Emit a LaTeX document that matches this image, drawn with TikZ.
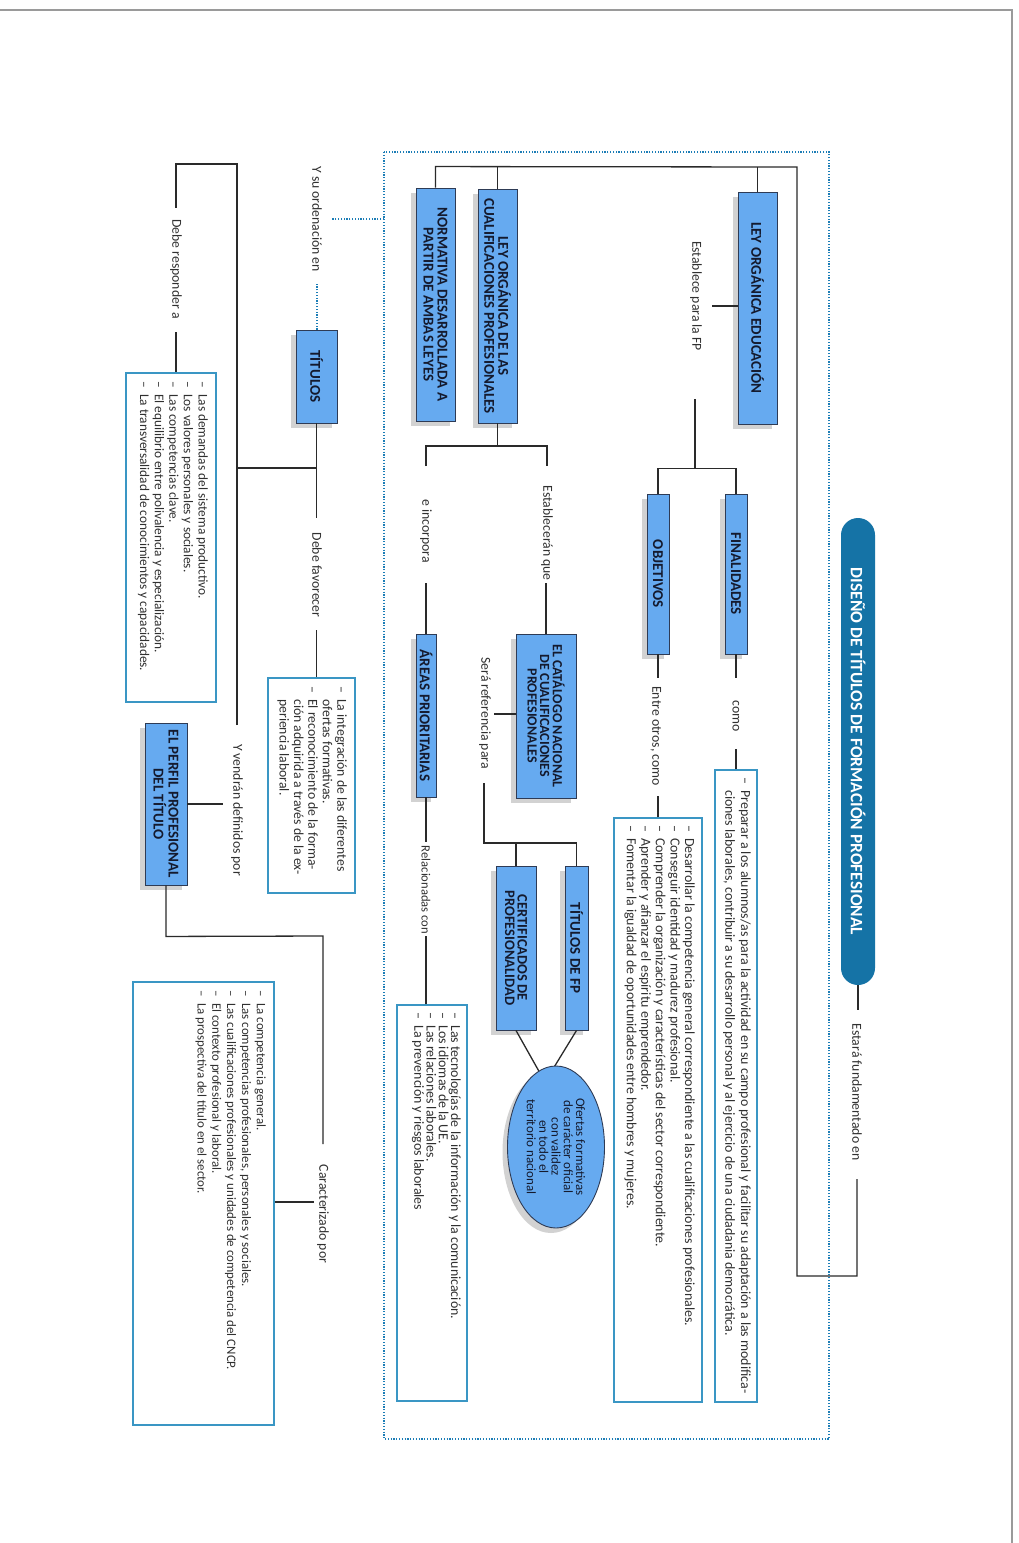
\documentclass[tikz,border=0pt]{standalone}
\usepackage{fontspec}
\setmainfont{Carlito}
\usetikzlibrary{shapes.geometric,shadows}
\definecolor{boxfill}{HTML}{66AAF0}
\definecolor{boxborder}{HTML}{2E3B55}
\definecolor{boxtext}{HTML}{141A2E}
\definecolor{listborder}{HTML}{3A96C4}
\definecolor{dotblue}{HTML}{1C7DB6}
\definecolor{pillblue}{HTML}{1573A6}
\definecolor{linecol}{HTML}{2A2A2A}
\definecolor{txtcol}{HTML}{303030}
\definecolor{pagegray}{HTML}{9A9A9A}
\newcommand\itm[1]{\makebox[13pt][l]{–}#1}
\newcommand\cnt{\hspace*{13pt}}
\begin{document}
\begin{tikzpicture}[x=1pt,y=-1pt,
  conn/.style={draw=linecol, line width=1.3pt},
  dotln/.style={draw=dotblue, line width=2pt, dash pattern=on 1.2pt off 1.6pt},
  hbox/.style={draw=boxborder, fill=boxfill, line width=0.9pt, rotate=-90, inner sep=0pt, align=center, text=boxtext,
     font=\fontsize{15}{15}\selectfont\bfseries,
     drop shadow={shadow xshift=-5pt, shadow yshift=-5pt, opacity=0.35}},
  lbox/.style={draw=listborder, line width=1.4pt, rotate=-90, inner sep=0pt},
  ltext/.style={rotate=-90, anchor=north west, inner sep=0pt, align=left, text=txtcol, font=\fontsize{13.9}{14.6}\selectfont},
  lab/.style={rotate=-90, inner sep=0pt, text=txtcol, font=\fontsize{13.7}{14}\selectfont},
]
\useasboundingbox (0,0) rectangle (1019,1543);
\fill[white] (0,0) rectangle (1019,1543);
\draw[pagegray, line width=1.5pt] (0,10) -- (1012,10) -- (1012,1543);
\draw[dotln] (384,152) rectangle (829,1439);

% title
\node[rotate=-90, fill=pillblue, rounded corners=17pt, minimum width=467pt, minimum height=34pt, inner sep=0pt,
      text=white, font=\fontsize{17.4}{17}\selectfont\bfseries] (pill) at (858,751.5) {DISEÑO DE TÍTULOS DE FORMACIÓN PROFESIONAL};

% heading boxes
\node[hbox, minimum width=232pt, minimum height=39pt] (leyedu) at (757.5,308) {LEY ORGÁNICA EDUCACIÓN};
\node[hbox, minimum width=234pt, minimum height=39pt, font=\fontsize{15}{14}\selectfont\bfseries] (cualif) at (497.5,306) {LEY ORGÁNICA DE LAS\\CUALIFICACIONES PROFESIONALES};
\node[hbox, minimum width=233pt, minimum height=39pt, font=\fontsize{15}{14}\selectfont\bfseries] (norm) at (435.5,304.5) {NORMATIVA DESARROLLADA A\\PARTIR DE AMBAS LEYES};
\node[hbox, minimum width=160pt, minimum height=22pt] (fin) at (736,574) {FINALIDADES};
\node[hbox, minimum width=160pt, minimum height=22pt] (obj) at (658,574) {OBJETIVOS};
\node[hbox, minimum width=164pt, minimum height=60pt, font=\fontsize{14}{12.6}\selectfont\bfseries] (cat) at (546,716) {EL CATÁLOGO NACIONAL\\DE CUALIFICACIONES\\PROFESIONALES};
\node[hbox, minimum width=163pt, minimum height=20pt] (areas) at (426,715.5) {ÁREAS PRIORITARIAS};
\node[hbox, minimum width=164pt, minimum height=23pt] (tfp) at (576.5,948) {TÍTULOS DE FP};
\node[hbox, minimum width=164pt, minimum height=40pt, font=\fontsize{14.5}{12.6}\selectfont\bfseries] (cert) at (516,948) {CERTIFICADOS DE\\PROFESIONALIDAD};
\node[hbox, minimum width=93pt, minimum height=41pt] (tit) at (316.5,376.5) {TÍTULOS};
\node[hbox, minimum width=162pt, minimum height=42pt, font=\fontsize{15}{15}\selectfont\bfseries] (perf) at (166,804) {EL PERFIL PROFESIONAL\\DEL TÍTULO};

% list boxes
\node[lbox, minimum width=632pt, minimum height=42pt] (prep) at (736,1086) {};
\node[lbox, minimum width=584pt, minimum height=88pt] (des) at (658,1110) {};
\node[lbox, minimum width=396pt, minimum height=70pt] (tec) at (432,1203) {};
\node[lbox, minimum width=329pt, minimum height=90pt] (dem) at (171,537.5) {};
\node[lbox, minimum width=215pt, minimum height=87pt] (integ) at (311.5,785.5) {};
\node[lbox, minimum width=443pt, minimum height=141pt] (comp) at (203.5,1203.5) {};

\node[ltext, font=\fontsize{13.9}{15.7}\selectfont] (prept) at (751,777) {\itm{Preparar a los alumnos/as para la actividad en su campo profesional y facilitar su adaptación a las modifica-}\\\cnt ciones laborales, contribuir a su desarrollo personal y al ejercicio de una ciudadania democrática.};
\node[ltext] (dest) at (695,825) {\itm{Desarrollar la competencia general correspondiente a las cualificaciones profesionales.}\\\itm{Conseguir identidad y madurez profesional.}\\\itm{Comprender la organización y características del sector correspondiente.}\\\itm{Aprender y afianzar el espíritu emprendedor.}\\\itm{Fomentar la igualdad de oportunidades entre hombres y mujeres.}};
\node[ltext, font=\fontsize{13.9}{12.3}\selectfont] (tect) at (461,1012) {\itm{Las tecnologías de la información y la comunicación.}\\\itm{Los idiomas de la UE.}\\\itm{Las relaciones laborales.}\\\itm{La prevención y riesgos laborales}};
\node[ltext, font=\fontsize{13.3}{14.6}\selectfont] (demt) at (208,381) {\itm{Las demandas del sistema productivo.}\\\itm{Los valores personales y sociales.}\\\itm{Las competencias clave.}\\\itm{El equilibrio entre polivalencia y especialización.}\\\itm{La transversalidad de conocimientos y capacidades.}};
\node[ltext, font=\fontsize{13.7}{14.4}\selectfont] (integt) at (347,686) {\itm{La integración de las diferentes}\\\cnt ofertas formativas.\\\itm{El reconocimiento de la forma-}\\\cnt ción adquirida a través de la ex-\\\cnt periencia laboral.};
\node[ltext, font=\fontsize{12.9}{14.8}\selectfont] (compt) at (266,990) {\itm{La competencia general.}\\\itm{Las competencias profesionales, personales y sociales.}\\\itm{Las cualificaciones profesionales y unidades de competencia del CNCP.}\\\itm{El contexto profesional y laboral.}\\\itm{La prospectiva del título en el sector.}};

% labels
\node[lab] (l1) at (696,296) {Establece para la FP};
\node[lab] (l2) at (736,716) {como};
\node[lab] (l3) at (656,736) {Entre otros, como};
\node[lab] (l4) at (547,533) {Establecerán que};
\node[lab] (l5) at (426,531) {e incorpora};
\node[lab] (l6) at (485,713) {Será referencia para};
\node[lab, font=\fontsize{12.6}{13}\selectfont] (l7) at (426,890) {Relacionadas con};
\node[lab] (l8) at (317,219) {Y su ordenación en};
\node[lab] (l9) at (317,575) {Debe favorecer};
\node[lab] (l10) at (176,269) {Debe responder a};
\node[lab] (l11) at (237,810) {Y vendrán definidos por};
\node[lab] (l12) at (323,1214) {Caracterizado por};
\node[lab] (l13) at (857,1092) {Estará fundamentado en};

% connectors
\draw[conn] (norm.west) -- ++(0,-21) -- (797,167) -- (797,1276) -- (857,1276) -- (857,1179);
\draw[conn] (cualif.west) -- ++(0,-22);
\draw[conn] (leyedu.west) -- ++(0,-25);
\draw[conn] (pill.east) -- ++(0,25);
\draw[conn] (leyedu.south) ++(0,-2) -- ++(-26,0);
\draw[conn] (695,399) -- (695,469);
\draw[conn] (fin.west) -- ++(0,-25) -| (obj.west);
\draw[conn] (fin.east) -- ++(0,24);
\draw[conn] (prep.west) -- ++(0,-20);
\draw[conn] (obj.east) -- ++(0,24);
\draw[conn] (des.west) -- ++(0,-21);
\draw[conn] (cualif.east) -- ++(0,23);
\draw[conn] (426,466) -- (426,446) -- (547,446) -- (547,466);
\draw[conn] (cat.west) -- ++(0,-51);
\draw[conn] (areas.west) -- ++(0,-51);
\draw[conn] (cat.south) ++(0,-2) -- ++(-22,0);
\draw[conn] (484,783) -- (484,843) -| (tfp.west);
\draw[conn] (cert.west) -- ++(0,-23);
\coordinate (conv) at (545,1082);
\draw[conn] (tfp.east) -- (conv);
\draw[conn] (cert.east) -- (conv);
\draw[conn] (areas.east) -- ++(0,45);
\draw[conn] (tec.west -| areas.east) -- ++(0,-68);
\draw[dotln] (384,219) -- (332,219);
\draw[dotln] (tit.west) -- ++(0,-47);
\draw[conn] (tit.east) -- (316.5,518);
\draw[conn] (316.5,468) -- (237,468);
\draw[conn] (316.5,630) -- (integ.west -| tit.east);
\draw[conn] (237,725) -- (237,164) -- (176,164) -- (176,208);
\draw[conn] (176,332) -- (dem.west -| 176,0);
\draw[conn] (perf.north) -- ++(36,0);
\draw[conn] (perf.east) -- ++(0,51) -- (323,936) -- (323,1144);
\draw[conn] (comp.north) ++(0,-1.5) -- ++(39,0);

% ellipse
\node[ellipse, draw=boxborder, fill=boxfill, line width=0.9pt, rotate=-90, minimum width=162pt, minimum height=97pt,
      inner sep=0pt, align=center, text=boxtext, font=\fontsize{13}{12.3}\selectfont,
      drop shadow={shadow xshift=-5pt, shadow yshift=-5pt, opacity=0.35}] (circ) at (556,1147)
      {Ofertas formativas\\de carácter oficial\\con validez\\en todo el\\territorio nacional};
\end{tikzpicture}
\end{document}
